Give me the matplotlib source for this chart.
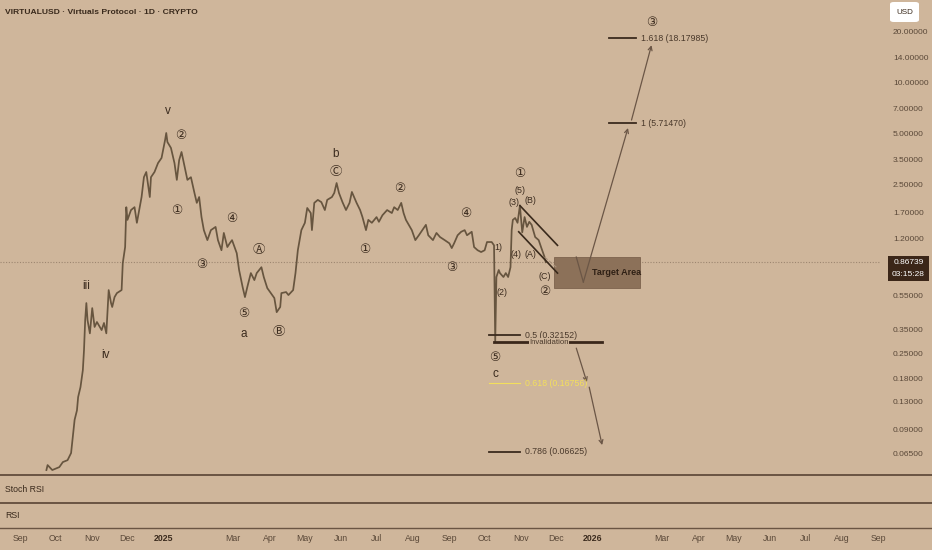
import matplotlib
matplotlib.use("Agg")
import matplotlib.pyplot as plt
import matplotlib.dates as mdates
from matplotlib.lines import Line2D
from matplotlib.patches import Rectangle, FancyBboxPatch
from matplotlib.ticker import NullLocator
import pandas as pd

# cores do grafico
BG = "#cfb69b"
INK = "#3b2b1e"
PRICE = "#67553f"
ARROW = "#6b5646"
AXIS_TXT = "#5a4838"
YELLOW = "#f3df5c"

plt.rcParams["font.family"] = ["Liberation Sans Narrow", "Liberation Sans", "DejaVu Sans"]
SYM_FONT = ["DejaVu Sans", "Noto Sans CJK JP"]

# serie de precos (fechamentos)
price_dates = [
    "2024-09-23", "2024-09-24", "2024-09-28", "2024-10-02", "2024-10-04", "2024-10-07",
    "2024-10-11", "2024-10-14", "2024-10-15", "2024-10-17", "2024-10-19", "2024-10-20",
    "2024-10-22", "2024-10-24", "2024-10-25", "2024-10-26", "2024-10-27", "2024-10-28",
    "2024-10-30", "2024-11-01", "2024-11-03", "2024-11-05", "2024-11-09", "2024-11-11",
    "2024-11-13", "2024-11-15", "2024-11-17", "2024-11-18", "2024-11-20", "2024-11-22",
    "2024-11-26", "2024-11-27", "2024-11-29", "2024-11-30", "2024-12-01", "2024-12-04",
    "2024-12-07", "2024-12-09", "2024-12-13", "2024-12-15", "2024-12-17", "2024-12-20",
    "2024-12-21", "2024-12-24", "2024-12-27", "2024-12-30", "2024-12-31", "2025-01-02",
    "2025-01-03", "2025-01-04", "2025-01-07", "2025-01-10", "2025-01-12", "2025-01-14",
    "2025-01-16", "2025-01-18", "2025-01-21", "2025-01-24", "2025-01-27", "2025-01-29",
    "2025-01-31", "2025-02-02", "2025-02-04", "2025-02-07", "2025-02-10", "2025-02-14",
    "2025-02-16", "2025-02-19", "2025-02-21", "2025-02-24", "2025-02-26", "2025-02-28",
    "2025-03-04", "2025-03-06", "2025-03-09", "2025-03-11", "2025-03-13", "2025-03-16",
    "2025-03-19", "2025-03-21", "2025-03-25", "2025-03-27", "2025-03-30", "2025-04-02",
    "2025-04-05", "2025-04-07", "2025-04-10", "2025-04-11", "2025-04-15", "2025-04-17",
    "2025-04-21", "2025-04-23", "2025-04-25", "2025-04-28", "2025-05-01", "2025-05-03",
    "2025-05-06", "2025-05-07", "2025-05-09", "2025-05-12", "2025-05-15", "2025-05-18",
    "2025-05-20", "2025-05-24", "2025-05-26", "2025-05-28", "2025-05-30", "2025-06-02",
    "2025-06-05", "2025-06-08", "2025-06-10", "2025-06-14", "2025-06-17", "2025-06-19",
    "2025-06-22", "2025-06-24", "2025-06-27", "2025-07-01", "2025-07-03", "2025-07-06",
    "2025-07-10", "2025-07-14", "2025-07-16", "2025-07-19", "2025-07-22", "2025-07-24",
    "2025-07-26", "2025-07-31", "2025-08-03", "2025-08-06", "2025-08-09", "2025-08-12",
    "2025-08-14", "2025-08-18", "2025-08-21", "2025-08-24", "2025-08-28", "2025-09-01",
    "2025-09-03", "2025-09-05", "2025-09-08", "2025-09-11", "2025-09-14", "2025-09-16",
    "2025-09-20", "2025-09-22", "2025-09-25", "2025-09-28", "2025-10-01", "2025-10-03",
    "2025-10-07", "2025-10-09", "2025-10-10", "2025-10-11", "2025-10-13", "2025-10-14",
    "2025-10-17", "2025-10-19", "2025-10-21", "2025-10-23", "2025-10-24", "2025-10-25",
    "2025-10-27", "2025-10-29", "2025-10-31", "2025-11-02", "2025-11-04", "2025-11-06",
    "2025-11-08", "2025-11-10", "2025-11-13", "2025-11-16", "2025-11-18", "2025-11-21",
    "2025-11-22",
]
price_values = [
    0.0516, 0.0552, 0.0516, 0.0530, 0.0537, 0.0575,
    0.0590, 0.0650, 0.0755, 0.102, 0.116, 0.139,
    0.159, 0.200, 0.263, 0.395, 0.498, 0.395,
    0.330, 0.465, 0.360, 0.385, 0.345, 0.380,
    0.330, 0.594, 0.498, 0.472, 0.540, 0.570,
    0.594, 0.857, 1.065, 1.83, 1.54, 1.76,
    1.83, 1.48, 2.10, 2.75, 2.95, 2.10,
    2.75, 2.95, 3.33, 3.57, 3.87, 4.55,
    5.01, 4.43, 4.09, 3.33, 2.65, 3.47,
    3.87, 3.33, 2.65, 2.75, 2.22, 1.94,
    2.10, 1.60, 1.34, 1.17, 1.34, 1.40,
    1.17, 1.02, 1.29, 1.065, 1.12, 1.17,
    0.98, 0.78, 0.619, 0.54, 0.619, 0.748,
    0.68, 0.748, 0.81, 0.709, 0.61, 0.57,
    0.533, 0.44, 0.472, 0.57, 0.578, 0.555,
    0.594, 0.748, 1.02, 1.34, 1.48, 1.81,
    1.69, 1.34, 1.94, 2.02, 1.96, 1.76,
    2.02, 2.10, 2.22, 2.54, 2.22, 1.96,
    1.76, 1.94, 2.25, 1.94, 1.76, 1.60,
    1.34, 1.54, 1.48, 1.60, 1.50, 1.64,
    1.76, 1.69, 1.83, 1.76, 1.94, 1.69,
    1.54, 1.34, 1.17, 1.25, 1.34, 1.44,
    1.25, 1.17, 1.29, 1.22, 1.17, 1.12,
    1.05, 1.12, 1.25, 1.31, 1.34, 1.25,
    1.31, 1.065, 1.02, 0.995, 1.02, 1.14,
    1.14, 1.09, 0.293, 0.709, 0.78, 0.748,
    0.709, 0.748, 0.709, 0.81, 1.34, 1.54,
    1.58, 1.48, 1.87, 1.30, 1.60, 1.40,
    1.50, 1.44, 1.22, 1.17, 1.065, 0.93,
    0.867,
]
last_price = 0.86739

# eixo de precos (direita)
ytick_values = [20, 14, 10, 7, 5, 3.5, 2.5, 1.7, 1.2, 0.55, 0.35, 0.25, 0.18, 0.13, 0.09, 0.065]

# eixo de datas
xtick_dates = ["2024-09-01", "2024-10-01", "2024-11-01", "2024-12-01", "2025-01-01",
               "2025-03-01", "2025-04-01", "2025-05-01", "2025-06-01", "2025-07-01",
               "2025-08-01", "2025-09-01", "2025-10-01", "2025-11-01", "2025-12-01",
               "2026-01-01", "2026-03-01", "2026-04-01", "2026-05-01", "2026-06-01",
               "2026-07-01", "2026-08-01", "2026-09-01"]
xtick_texts = ["Sep", "Oct", "Nov", "Dec", "2025", "Mar", "Apr", "May", "Jun", "Jul",
               "Aug", "Sep", "Oct", "Nov", "Dec", "2026", "Mar", "Apr", "May", "Jun",
               "Jul", "Aug", "Sep"]

# contagem de ondas (Elliott)
wave_texts = ["v", "②", "①", "④", "③", "Ⓐ", "⑤", "a", "Ⓑ", "iii", "iv",
              "b", "Ⓒ", "②", "①", "④", "③", "1)", "(2)", "⑤", "c",
              "①", "(5)", "(3)", "(B)", "(4)", "(A)", "(C)", "②", "③"]
wave_dates = ["2025-01-04", "2025-01-15", "2025-01-12", "2025-02-28", "2025-02-02",
              "2025-03-23", "2025-03-10", "2025-03-10", "2025-04-09", "2024-10-27",
              "2024-11-12", "2025-05-27", "2025-05-27", "2025-07-21", "2025-06-21",
              "2025-09-15", "2025-09-03", "2025-10-13", "2025-10-16", "2025-10-10",
              "2025-10-10", "2025-10-31", "2025-10-31", "2025-10-26", "2025-11-09",
              "2025-10-28", "2025-11-09", "2025-11-21", "2025-11-21", "2026-02-20"]
wave_prices = [6.75, 4.81, 1.76, 1.56, 0.846, 1.03, 0.435, 0.327, 0.338, 0.627,
               0.246, 3.76, 2.99, 2.37, 1.03, 1.67, 0.81, 1.065, 0.578, 0.239,
               0.19, 2.91, 2.31, 1.94, 1.99, 0.96, 0.96, 0.718, 0.586, 22.6]

# niveis de fibonacci
fib_texts = ["1.618 (18.17985)", "1 (5.71470)", "0.5 (0.32152)", "0.618 (0.16756)", "0.786 (0.06625)"]
fib_values = [18.17985, 5.71470, 0.32152, 0.16756, 0.06625]
fib_start = ["2026-01-15", "2026-01-15", "2025-10-05", "2025-10-05", "2025-10-05"]
fib_end = ["2026-02-07", "2026-02-07", "2025-10-31", "2025-10-31", "2025-10-31"]
invalidation = 0.293

# area alvo e projecoes
target_dates = ["2025-11-29", "2026-02-10"]
target_prices = [0.61, 0.93]
up_dates = ["2025-12-18", "2025-12-24", "2026-01-31", "2026-02-03", "2026-02-20"]
up_prices = [0.93, 0.662, 5.36, 5.97, 16.5]
down_dates = ["2025-12-18", "2025-12-27", "2025-12-29", "2026-01-09"]
down_prices = [0.270, 0.170, 0.159, 0.0724]
chan_dates = ["2025-10-31", "2025-12-02", "2025-10-30", "2025-12-02"]
chan_prices = [1.87, 1.09, 1.31, 0.748]


def D(s):
    return mdates.date2num(pd.Timestamp(s))


W, H = 932, 550
fig = plt.figure(figsize=(W / 100, H / 100), dpi=100, facecolor=BG)


def fx(px):
    return px / W


def fy(py):
    return 1 - py / H


ax = fig.add_axes([0, fy(474), fx(880), 474 / H])
ax2 = fig.add_axes([0, fy(502), fx(880), 26 / H], sharex=ax)
ax3 = fig.add_axes([0, fy(528), fx(880), 25 / H], sharex=ax)

for a in (ax, ax2, ax3):
    a.set_facecolor(BG)
    for s in a.spines.values():
        s.set_visible(False)
    a.set_yticks([])

ax.set_yscale("log")
ax.set_xlim(D("2024-08-14 12:00"), D("2026-09-02 12:00"))
ax.set_ylim(0.0489, 30.47)

# linha de preco
ax.plot([D(d) for d in price_dates], price_values, color=PRICE, lw=1.25, zorder=3)
ax.axhline(last_price, color="#9d8670", lw=0.8, ls=(0, (1, 1.5)), zorder=1)

# eixo y a direita
ax.yaxis.tick_right()
ax.set_yticks(ytick_values)
ax.set_yticklabels([f"{v:.5f}" for v in ytick_values])
ax.yaxis.set_minor_locator(NullLocator())
ax.tick_params(axis="y", length=0, pad=9.4, labelsize=6.0, labelcolor=AXIS_TXT)
ax.tick_params(axis="x", length=0, labelbottom=False)
ax2.tick_params(axis="x", length=0, labelbottom=False)

ax3.set_xticks([D(d) for d in xtick_dates])
ax3.set_xticklabels(xtick_texts)
ax3.tick_params(axis="x", length=0, pad=4.5, labelsize=6.3, labelcolor=AXIS_TXT)
for lab in ax3.get_xticklabels():
    if lab.get_text().isdigit():
        lab.set_fontweight("bold")
        lab.set_color(INK)

# rotulos das ondas
for txt, d, v in zip(wave_texts, wave_dates, wave_prices):
    if any(ord(c) > 0x2400 for c in txt):
        ax.text(D(d), v, txt, ha="center", va="center", fontsize=9, color=INK,
                family=SYM_FONT, zorder=5)
    elif "(" in txt or ")" in txt:
        ax.text(D(d), v, txt, ha="center", va="center", fontsize=6.4, color=INK, zorder=5)
    else:
        ax.text(D(d), v, txt, ha="center", va="center", fontsize=8.5, color=INK, zorder=5)

# fibonacci
for txt, v, d0, d1 in zip(fib_texts, fib_values, fib_start, fib_end):
    col = YELLOW if txt.startswith("0.618") else INK
    ax.plot([D(d0), D(d1)], [v, v], color=col, lw=0.8 if col == YELLOW else 1.3, zorder=4)
    ax.text(D(d1) + 4.5, v, txt, ha="left", va="center", fontsize=6.3,
            color=col if col == YELLOW else "#4a392b", zorder=5)

ax.plot([D("2025-10-09"), D("2026-01-09")], [invalidation, invalidation], color="#3a271a", lw=2.0, zorder=4)
ax.text(D("2025-11-25"), invalidation, "Invalidation", ha="center", va="center", fontsize=5.6,
        color="#4a392b", zorder=6, bbox=dict(facecolor=BG, edgecolor="none", pad=0.3))

# area alvo
ax.add_patch(Rectangle((D(target_dates[0]), target_prices[0]),
                       D(target_dates[1]) - D(target_dates[0]),
                       target_prices[1] - target_prices[0],
                       facecolor="#8c7159", edgecolor="#7d634d", lw=0.6, zorder=2))
ax.text(D("2026-01-21"), 0.758, "Target Area", ha="center", va="center", fontsize=6.5,
        fontweight="bold", color="#2f2015", zorder=5)

# canal descendente
ax.plot([D(chan_dates[0]), D(chan_dates[1])], chan_prices[:2], color="#3a2a1c", lw=1.2, zorder=4)
ax.plot([D(chan_dates[2]), D(chan_dates[3])], chan_prices[2:], color="#3a2a1c", lw=1.2, zorder=4)
ax.plot([D("2025-11-21"), D("2025-12-01")], [0.93, 0.81], color="#a8917a", lw=0.8, ls="--", zorder=3)

# projecao de alta
ax.plot([D(up_dates[0]), D(up_dates[1])], up_prices[:2], color=ARROW, lw=0.9, zorder=4)
arrow = dict(arrowstyle="->", color=ARROW, lw=0.9, shrinkA=0, shrinkB=0, mutation_scale=7)
ax.annotate("", xy=(D(up_dates[2]), up_prices[2]), xytext=(D(up_dates[1]), up_prices[1]), arrowprops=arrow)
ax.annotate("", xy=(D(up_dates[4]), up_prices[4]), xytext=(D(up_dates[3]), up_prices[3]), arrowprops=arrow)

# projecao de baixa
ax.annotate("", xy=(D(down_dates[1]), down_prices[1]), xytext=(D(down_dates[0]), down_prices[0]), arrowprops=arrow)
ax.annotate("", xy=(D(down_dates[3]), down_prices[3]), xytext=(D(down_dates[2]), down_prices[2]), arrowprops=arrow)

# cabecalho e paineis
fig.text(fx(5), fy(12), "VIRTUALUSD · Virtuals Protocol · 1D · CRYPTO", ha="left", va="center",
         fontsize=6.1, fontweight="bold", color="#3a2a1c")
fig.text(fx(5), fy(489), "Stoch RSI", ha="left", va="center", fontsize=6.3, color="#3a2a1c")
fig.text(fx(5), fy(515), "RSI", ha="left", va="center", fontsize=6.3, color="#3a2a1c")

for py, lw in ((475, 1.4), (502.5, 1.4), (528, 1.0)):
    fig.add_artist(Line2D([0, 1], [fy(py), fy(py)], color="#6a5443", lw=lw))

# etiqueta do ultimo preco
fig.add_artist(Rectangle((fx(888), fy(281)), fx(41), 25 / H, facecolor="#3b2618", edgecolor="none"))
fig.text(fx(908.5), fy(262.5), f"{last_price:.5f}", ha="center", va="center", fontsize=6.0, color="white")
fig.text(fx(908.5), fy(274.5), "03:15:28", ha="center", va="center", fontsize=6.0, color="white")

fig.add_artist(FancyBboxPatch((fx(890), fy(22)), fx(29), 20 / H, boxstyle="round,pad=0,rounding_size=0.004",
                              facecolor="white", edgecolor="none"))
fig.text(fx(904.5), fy(12), "USD", ha="center", va="center", fontsize=5.8, color="#3a2a1c")

fig.savefig("out.png", dpi=100, facecolor=BG)
